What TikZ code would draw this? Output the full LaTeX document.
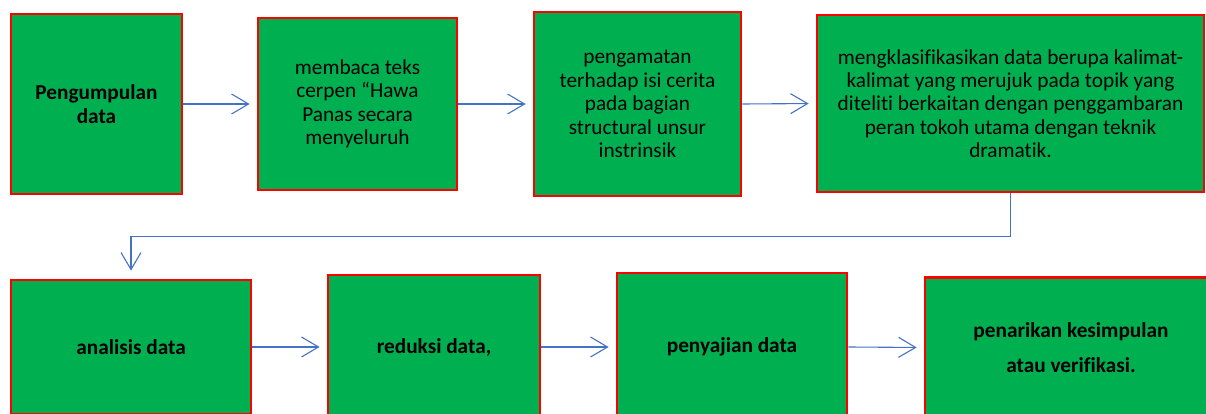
\documentclass[tikz,border=0pt]{standalone}
\usepackage{fontspec}
\setmainfont{Carlito}[Ligatures=NoCommon]
\usetikzlibrary{arrows.meta}
\definecolor{boxgreen}{RGB}{0,176,80}
\definecolor{boxred}{RGB}{255,0,0}
\definecolor{lineblue}{RGB}{68,114,196}
\tikzset{
  box/.style={draw=boxred, fill=boxgreen, line width=2.8pt, inner sep=0pt,
    align=center, text=black, font=\fontsize{21.3}{23.4}\selectfont},
  boldbox/.style={box, font=\fontsize{21.3}{23.4}\selectfont\bfseries},
  flow/.style={draw=lineblue, line width=1.1pt,
    -{Straight Barb[length=17pt,width=20pt,line width=1.1pt]}, shorten >=7pt}
}
\begin{document}
\begin{tikzpicture}[x=1pt,y=-1pt]
\useasboundingbox (0,0) rectangle (1206,414);
\clip (0,0) rectangle (1206,414);
% top row
\node[boldbox, minimum width=171pt, minimum height=180pt] (b1) at (96.5,104)
  {Pengumpulan\\data};
\node[box, minimum width=199pt, minimum height=172pt] (b2) at (357.5,104)
  {membaca teks\\cerpen “Hawa\\Panas secara\\menyeluruh};
\node[box, minimum width=207pt, minimum height=184pt] (b3) at (637.5,104)
  {pengamatan\\terhadap isi cerita\\pada bagian\\structural unsur\\instrinsik};
\node[box, minimum width=387pt, minimum height=177pt] (b4) at (1010.5,103.5)
  {mengklasifikasikan data berupa kalimat-\\kalimat yang merujuk pada topik yang\\diteliti berkaitan dengan penggambaran\\peran tokoh utama dengan teknik\\dramatik.};
% bottom row
\node[boldbox, minimum width=240pt, minimum height=134pt] (b5) at (131,347)
  {analisis data};
\node[boldbox, minimum width=212pt, minimum height=144pt] (b6) at (434,347)
  {reduksi data,};
\node[boldbox, minimum width=230pt, minimum height=148pt] (b7) at (732,347)
  {penyajian data};
\node[boldbox, minimum width=292pt, minimum height=140pt,
  font=\fontsize{21.3}{35}\selectfont\bfseries] (b8) at (1071,347.5)
  {penarikan kesimpulan\\atau verifikasi.};
% connectors
\draw[flow] (b1.east) -- (b2.west);
\draw[flow] (b2.east) -- (b3.west);
\draw[flow] (b3.east) -- (b4.west);
\coordinate (elbow) at ([yshift=-43pt]b4.south);
\draw[flow, shorten >=8pt] (b4.south) -- (elbow) -| (b5.north);
\draw[flow] (b5.east) -- (b6.west);
\draw[flow] (b6.east) -- (b7.west);
\draw[flow] (b7.east) -- (b8.west);
\end{tikzpicture}
\end{document}
